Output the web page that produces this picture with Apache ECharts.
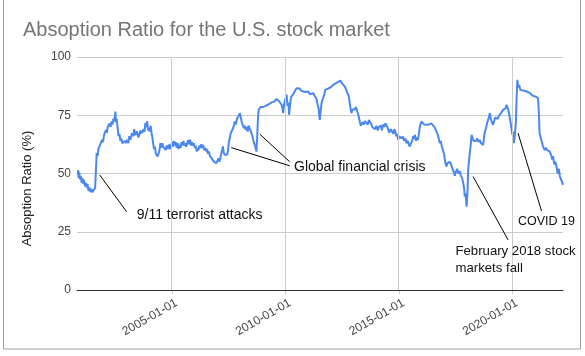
<!DOCTYPE html>
<html>
<head>
<meta charset="utf-8">
<script src="https://cdn.jsdelivr.net/npm/echarts@6/dist/echarts.min.js"></script>
<style>
html,body{margin:0;padding:0;background:#fff;}
#c{width:585px;height:356px;}
</style>
</head>
<body>
<div id="c"></div>
<script>
const titleText = 'Absoption Ratio for the U.S. stock market';
const yAxisName = 'Absoption Ratio (%)';
const yTicks = [0, 25, 50, 75, 100];
const xTickDates = ['2005-01-01', '2010-01-01', '2015-01-01', '2020-01-01'];

// [date, absorption ratio %]
const absorption = [
['2000-11-13',49.4],['2000-11-20',51.5],['2000-11-28',48.0],['2000-12-05',50.5],['2000-12-20',47.5],['2001-01-01',49.0],['2001-01-15',46.0],['2001-01-28',48.0],['2001-02-10',45.5],['2001-02-20',47.2],['2001-03-10',44.5],['2001-03-25',46.0],['2001-04-05',44.0],['2001-04-20',45.5],['2001-05-05',42.5],['2001-05-20',44.0],['2001-06-05',42.0],['2001-06-20',43.5],['2001-07-05',42.0],['2001-07-20',42.8],['2001-08-05',41.8],['2001-08-20',43.8],['2001-09-05',44.5],
['2001-09-14',58.8],['2001-09-28',57.5],['2001-10-10',60.5],['2001-10-25',60.0],['2001-11-10',62.5],['2001-11-25',62.0],['2001-12-10',64.4],['2001-12-25',63.5],['2002-01-10',66.5],['2002-01-25',66.0],['2002-02-10',68.7],['2002-02-25',67.5],['2002-03-10',70.0],['2002-03-28',69.5],['2002-04-10',71.5],['2002-04-25',70.0],['2002-05-10',72.3],['2002-05-25',71.0],['2002-06-10',73.5],['2002-06-25',72.5],['2002-07-12',76.6],['2002-07-20',72.0],['2002-08-01',73.5],['2002-08-15',70.0],['2002-09-01',66.0],['2002-09-15',67.0],['2002-10-01',64.0],['2002-10-15',65.0],['2002-11-01',63.0],['2002-11-20',62.3],['2002-12-10',64.0],['2002-12-25',63.0],
['2003-01-15',64.4],['2003-02-05',63.0],['2003-02-20',66.0],['2003-03-10',64.5],['2003-04-05',67.3],['2003-04-25',66.0],['2003-05-10',69.0],['2003-05-28',66.5],['2003-06-25',68.0],['2003-07-15',65.5],['2003-08-01',66.5],['2003-08-20',68.5],['2003-09-12',67.3],['2003-10-10',69.0],['2003-10-25',68.0],['2003-11-06',71.6],['2003-11-20',70.0],['2003-12-05',72.5],['2003-12-20',68.5],['2004-01-01',69.6],['2004-01-15',68.0],['2004-02-01',70.5],['2004-02-15',67.0],['2004-02-25',65.9],['2004-03-10',63.0],['2004-03-25',60.5],['2004-04-10',61.5],['2004-04-20',58.7],['2004-05-05',59.5],['2004-05-20',57.3],['2004-06-05',58.5],['2004-06-20',60.0],['2004-07-05',63.0],['2004-07-20',61.0],['2004-08-04',63.0],['2004-08-20',61.5],['2004-09-05',62.0],['2004-09-28',60.1],['2004-10-15',62.0],['2004-11-01',60.5],['2004-11-20',62.5],['2004-12-05',60.5],['2004-12-17',61.6],
['2005-01-10',63.5],['2005-01-25',61.5],['2005-02-10',64.0],['2005-02-25',62.0],['2005-03-08',63.5],['2005-03-25',61.0],['2005-04-10',63.0],['2005-04-25',60.5],['2005-05-10',62.3],['2005-05-27',61.0],['2005-06-10',63.5],['2005-06-25',62.0],['2005-07-10',64.0],['2005-07-25',62.0],['2005-08-10',63.0],['2005-08-25',61.5],['2005-09-10',63.0],['2005-09-25',64.4],['2005-10-10',62.5],['2005-10-25',64.5],['2005-11-10',62.0],['2005-11-25',63.5],['2005-12-10',62.0],['2005-12-25',63.0],
['2006-01-10',61.0],['2006-01-25',62.0],['2006-02-10',59.4],['2006-02-25',61.0],['2006-03-10',60.0],['2006-03-25',62.0],['2006-04-10',61.0],['2006-04-25',62.5],['2006-05-10',61.0],['2006-05-25',62.3],['2006-06-10',60.0],['2006-06-25',61.0],['2006-07-10',59.5],['2006-07-25',60.5],['2006-08-10',58.5],['2006-08-25',59.5],['2006-09-10',57.5],['2006-09-25',58.0],['2006-10-10',56.5],['2006-10-30',55.8],['2006-11-15',55.0],['2006-12-01',55.5],['2006-12-24',54.4],
['2007-01-10',55.0],['2007-01-25',56.5],['2007-02-10',55.0],['2007-02-25',56.5],['2007-03-10',58.5],['2007-03-25',60.0],['2007-04-08',61.6],['2007-04-20',59.0],['2007-05-05',58.0],['2007-05-20',58.5],['2007-06-02',57.3],['2007-06-15',58.0],['2007-06-28',60.0],['2007-07-10',63.0],['2007-07-25',65.0],['2007-08-10',67.3],['2007-08-25',66.5],['2007-09-10',69.0],['2007-09-25',70.0],['2007-10-16',72.3],['2007-11-01',71.0],['2007-11-20',73.5],['2007-12-10',74.5],['2008-01-05',75.9],['2008-01-20',74.0],
['2008-02-05',72.0],['2008-02-25',71.6],['2008-03-10',69.5],['2008-03-25',70.5],['2008-04-10',68.7],['2008-04-25',70.0],['2008-05-10',68.0],['2008-05-25',70.5],['2008-06-14',70.1],['2008-07-01',68.0],['2008-07-20',66.5],['2008-08-04',65.9],['2008-08-20',63.0],['2008-09-05',62.0],['2008-09-28',59.4],['2008-10-10',66.0],['2008-10-23',74.4],['2008-11-05',77.5],['2008-11-20',77.0],['2008-12-05',78.5],['2008-12-17',78.0],
['2009-01-10',78.5],['2009-02-01',78.0],['2009-02-20',79.0],['2009-03-10',78.8],['2009-04-01',79.5],['2009-05-01',79.5],['2009-06-01',80.5],['2009-06-24',80.2],['2009-07-20',81.0],['2009-08-15',82.0],['2009-09-12',82.3],['2009-09-28',81.0],['2009-10-15',81.5],['2009-11-06',79.5],['2009-11-20',78.0],['2009-12-02',75.9],['2009-12-15',79.5],['2010-01-26',83.8],['2010-02-10',79.0],['2010-02-25',80.5],['2010-03-07',75.2],['2010-03-25',80.0],['2010-04-10',83.0],['2010-05-12',84.0],['2010-06-10',85.5],['2010-07-05',86.6],['2010-08-01',86.0],['2010-08-20',86.5],['2010-09-20',85.5],['2010-10-19',85.9],['2010-11-15',85.0],['2010-12-15',85.5],
['2011-01-08',85.2],['2011-02-05',84.0],['2011-03-01',84.8],['2011-03-29',84.5],['2011-04-20',83.5],['2011-05-10',83.0],['2011-05-22',82.0],['2011-06-10',79.5],['2011-06-25',78.0],['2011-07-13',73.0],['2011-07-25',76.0],['2011-08-11',80.2],['2011-09-01',82.0],['2011-09-20',83.5],['2011-10-10',85.9],['2011-10-30',85.5],['2011-12-01',86.5],['2012-01-05',87.0],['2012-02-14',88.0],['2012-03-15',88.5],['2012-04-15',89.0],['2012-05-15',89.5],['2012-06-10',89.9],['2012-07-10',88.5],['2012-08-01',88.5],['2012-08-18',87.4],['2012-09-10',86.0],['2012-10-01',84.5],['2012-10-20',83.5],['2012-11-06',83.0],['2012-11-20',78.0],['2012-12-05',75.9],['2012-12-20',77.5],
['2013-01-10',78.0],['2013-01-26',77.5],['2013-02-15',78.5],['2013-03-05',77.0],['2013-03-22',77.0],['2013-04-05',74.0],['2013-04-20',72.0],['2013-05-05',70.5],['2013-05-16',70.1],['2013-06-01',72.0],['2013-06-20',71.0],['2013-07-10',72.5],['2013-08-04',72.3],['2013-08-25',71.0],['2013-09-10',73.0],['2013-09-28',73.8],['2013-10-15',71.5],['2013-11-05',70.0],['2013-11-18',69.4],['2013-12-05',70.5],['2013-12-20',69.0],
['2014-01-10',70.5],['2014-02-01',68.5],['2014-02-20',70.0],['2014-03-08',69.4],['2014-03-25',70.5],['2014-04-10',68.5],['2014-04-25',71.0],['2014-05-15',70.0],['2014-06-05',71.5],['2014-06-21',72.3],['2014-07-05',70.0],['2014-07-20',69.5],['2014-08-05',67.5],['2014-08-15',67.3],['2014-09-01',69.0],['2014-09-20',69.5],['2014-10-10',67.0],['2014-10-25',69.0],['2014-11-10',68.0],['2014-11-25',66.0],['2014-12-10',67.0],['2014-12-25',64.4],
['2015-01-15',66.0],['2015-02-01',66.5],['2015-02-20',65.0],['2015-03-14',65.9],['2015-04-01',64.0],['2015-04-20',65.0],['2015-05-10',63.0],['2015-06-01',64.0],['2015-06-15',62.5],['2015-07-01',61.6],['2015-07-20',63.0],['2015-08-10',64.0],['2015-08-25',66.0],['2015-09-10',65.0],['2015-09-20',66.6],['2015-10-10',64.0],['2015-10-25',65.5],['2015-11-10',64.4],['2015-11-25',67.0],['2015-12-10',70.0],
['2016-01-05',72.3],['2016-01-25',71.5],['2016-02-20',71.0],['2016-03-15',71.5],['2016-04-20',70.9],['2016-05-15',71.0],['2016-06-10',71.5],['2016-07-08',71.6],['2016-08-01',70.0],['2016-08-20',70.5],['2016-09-02',68.0],['2016-09-20',67.0],['2016-10-10',65.0],['2016-10-27',63.0],['2016-11-10',64.0],['2016-11-25',62.0],['2016-12-16',61.6],
['2017-01-05',58.0],['2017-01-20',55.0],['2017-02-10',53.0],['2017-02-28',54.5],['2017-03-20',54.0],['2017-04-10',55.0],['2017-05-01',55.8],['2017-05-20',52.0],['2017-06-10',50.5],['2017-06-25',49.0],['2017-07-10',50.5],['2017-08-01',52.0],['2017-08-20',50.0],['2017-09-13',51.0],['2017-10-01',49.0],['2017-10-20',48.0],['2017-11-07',46.0],['2017-11-20',44.0],['2017-12-03',40.1],['2017-12-15',41.5],
['2018-01-01',35.8],['2018-01-15',42.0],['2018-01-26',51.5],['2018-02-10',56.0],['2018-02-21',58.7],['2018-03-10',63.0],['2018-03-22',66.6],['2018-04-10',65.0],['2018-04-25',64.0],['2018-05-12',64.4],['2018-06-01',64.0],['2018-06-20',65.0],['2018-07-10',63.5],['2018-07-31',64.4],['2018-08-20',63.0],['2018-09-10',63.5],['2018-09-24',62.3],['2018-10-10',66.0],['2018-10-23',68.0],['2018-11-10',69.5],['2018-11-25',71.5],['2018-12-13',73.0],
['2019-01-11',75.9],['2019-01-25',73.5],['2019-02-10',72.0],['2019-03-03',70.9],['2019-03-20',72.5],['2019-04-05',74.0],['2019-04-27',74.4],['2019-05-15',73.5],['2019-06-01',74.5],['2019-06-18',75.2],['2019-07-10',76.0],['2019-08-11',77.3],['2019-09-01',76.5],['2019-09-20',78.0],['2019-10-05',79.5],['2019-10-25',78.0],['2019-11-10',76.5],['2019-11-25',75.9],['2019-12-15',71.0],
['2020-01-08',66.6],['2020-01-20',68.0],['2020-01-30',63.0],['2020-02-15',66.0],['2020-03-03',71.6],['2020-03-15',82.0],['2020-03-28',90.2],['2020-04-10',87.0],['2020-04-25',88.0],['2020-05-15',85.9],['2020-06-15',86.0],['2020-07-15',85.5],['2020-08-22',85.2],['2020-09-20',84.5],['2020-10-20',84.5],['2020-11-20',83.5],['2020-12-20',83.5],
['2021-01-20',83.0],['2021-02-24',82.3],['2021-03-10',75.0],['2021-03-20',67.3],['2021-04-05',68.0],['2021-04-20',66.6],['2021-05-10',62.0],['2021-05-25',61.0],['2021-06-10',60.1],['2021-07-01',61.0],['2021-07-20',60.0],['2021-08-10',60.8],['2021-08-29',59.5],['2021-09-20',58.0],['2021-10-10',56.0],['2021-10-23',57.5],['2021-11-10',54.0],['2021-12-01',55.0],['2021-12-17',53.0],
['2022-01-05',50.0],['2022-01-25',52.0],['2022-02-10',48.7],['2022-03-01',49.5],['2022-03-15',46.5],['2022-04-01',45.1]
];

// annotations: text, label anchor [date, value], leader lines [[start],[end]]
const annoTexts = ['9/11 terrorist attacks', 'Global financial crisis', 'February 2018 stock\nmarkets fall', 'COVID 19'];
const annoFontSizes = [14, 14, 13.2, 12.5];
const annoAnchors = [['2003-06-20', 32.2], ['2010-05-25', 52.7], ['2017-07-05', 13.0], ['2020-04-05', 29.3]];
const annoLines = [
  [['2001-11-01', 49.4], ['2003-01-08', 33.6]],
  [['2007-08-20', 61.1], ['2010-03-18', 53.3]],
  [['2008-11-20', 66.9], ['2010-03-18', 55.0]],
  [['2018-04-15', 48.7], ['2019-10-30', 21.5]],
  [['2020-04-08', 67.3], ['2021-04-20', 33.9]]
];

const chart = echarts.init(document.getElementById('c'), null, {renderer: 'canvas'});
const fontFam = '"Liberation Sans", Arial, sans-serif';

chart.setOption({
  animation: false,
  backgroundColor: '#fff',
  title: {
    text: titleText,
    left: 18, top: 15,
    textStyle: {fontFamily: fontFam, fontSize: 20, fontWeight: 'normal', color: '#757575'}
  },
  grid: {left: 77, right: 22, top: 57, bottom: 66, containLabel: false},
  xAxis: {
    type: 'time',
    min: '2000-11-01',
    max: '2022-04-01',
    axisLine: {show: true, lineStyle: {color: '#333', width: 1}},
    axisTick: {show: false},
    splitLine: {show: false},
    axisLabel: {show: false}
  },
  yAxis: {
    type: 'value',
    min: yTicks[0], max: yTicks[yTicks.length - 1], interval: 25,
    name: yAxisName,
    nameLocation: 'middle',
    nameGap: 43,
    nameTextStyle: {fontFamily: fontFam, fontSize: 13, color: '#222', padding: [0, 30, 0, 0]},
    axisLine: {show: false},
    axisTick: {show: false},
    splitLine: {lineStyle: {color: '#ccc', width: 1}},
    axisLabel: {color: '#444', fontFamily: fontFam, fontSize: 12, margin: 6}
  },
  series: [{
    type: 'line',
    data: [],
    z: 1,
    markLine: {
      silent: true,
      symbol: ['none', 'none'],
      label: {show: false},
      lineStyle: {color: '#ccc', width: 1, type: 'solid'},
      data: xTickDates.map(d => ({xAxis: d}))
    }
  }, {
    type: 'line',
    data: absorption,
    showSymbol: false,
    symbol: 'none',
    lineStyle: {color: '#4a88ee', width: 2},
    z: 3,
    markLine: {
      silent: true,
      symbol: ['none', 'none'],
      label: {show: false},
      lineStyle: {color: '#000', width: 1, type: 'solid'},
      data: annoLines.map(l => [{coord: l[0]}, {coord: l[1]}])
    },
    markPoint: {
      silent: true,
      symbol: 'circle',
      symbolSize: 0,
      itemStyle: {color: 'transparent'},
      label: {
        show: true,
        position: 'right',
        distance: 0,
        color: '#111',
        fontFamily: fontFam,
        fontSize: 14,
        lineHeight: 17,
        align: 'left',
        formatter: p => p.name
      },
      data: annoTexts.map((t, i) => ({name: t, coord: annoAnchors[i], value: 0, label: {fontSize: annoFontSizes[i]}}))
    }
  }]
});

// x tick labels and tick marks placed through the axis scale
const graphics = [];
xTickDates.forEach(d => {
  const p = chart.convertToPixel({gridIndex: 0}, [d, 0]);
  graphics.push({
    type: 'line', silent: true,
    shape: {x1: Math.round(p[0]) + 0.5, y1: p[1], x2: Math.round(p[0]) + 0.5, y2: p[1] + 4},
    style: {stroke: '#ccc', lineWidth: 1}
  });
  graphics.push({
    type: 'text', silent: true,
    x: p[0] + 5, y: p[1] + 12,
    rotation: 30 * Math.PI / 180,
    style: {text: d, align: 'right', verticalAlign: 'middle', fill: '#444', font: '12px ' + fontFam}
  });
});
graphics.push({
  type: 'rect', silent: true, z: 100,
  shape: {x: 3.5, y: -2, width: 577, height: 351},
  style: {fill: 'none', stroke: '#9e9e9e', lineWidth: 1}
});
chart.setOption({graphic: graphics});
</script>
</body>
</html>
